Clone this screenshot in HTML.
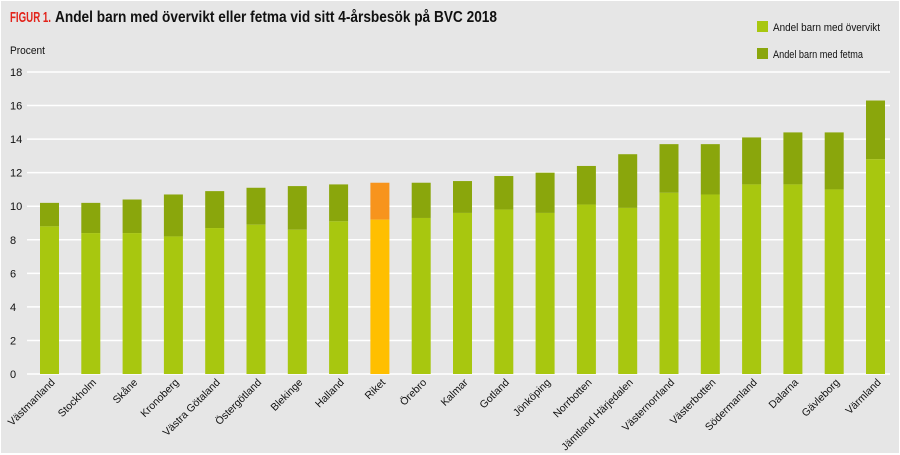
<!DOCTYPE html>
<html><head><meta charset="utf-8"><style>body{margin:0;background:#fff}svg{display:block}</style></head><body>
<svg width="900" height="455" xmlns="http://www.w3.org/2000/svg" font-family="Liberation Sans, sans-serif">
<rect x="0" y="0" width="900" height="455" fill="#fff"/>
<rect x="1" y="1" width="898" height="452" fill="#e6e6e6"/>
<text x="10" y="22" font-size="15" font-weight="bold" fill="#e2231a" textLength="41" lengthAdjust="spacingAndGlyphs">FIGUR 1.</text>
<text x="55" y="22" font-size="16" font-weight="bold" fill="#111" textLength="442" lengthAdjust="spacingAndGlyphs">Andel barn med övervikt eller fetma vid sitt 4-årsbesök på BVC 2018</text>
<text x="10" y="54" font-size="11" fill="#111" textLength="35" lengthAdjust="spacingAndGlyphs">Procent</text>
<rect x="757" y="21" width="11" height="11" fill="#a8c70f"/>
<text x="773" y="31" font-size="11" fill="#111" textLength="107" lengthAdjust="spacingAndGlyphs">Andel barn med övervikt</text>
<rect x="757" y="48" width="11" height="11" fill="#8aa60c"/>
<text x="773" y="58" font-size="11" fill="#111" textLength="90" lengthAdjust="spacingAndGlyphs">Andel barn med fetma</text>
<g id="grid"></g>
<g id="bars"></g>
<script>
var ns="http://www.w3.org/2000/svg",svg=document.querySelector('svg');
function el(t,a,txt,p){var e=document.createElementNS(ns,t);for(var k in a)e.setAttribute(k,a[k]);if(txt)e.textContent=txt;(p||svg).appendChild(e);return e;}
var y0=374,u=(374-72)/18;
for(var i=0;i<=18;i+=2){var y=y0-i*u;el('line',{x1:27,x2:890,y1:y,y2:y,stroke:'#fff','stroke-width':1.5});el('text',{x:10,y:y+4,'font-size':11,fill:'#111'},String(i));}
var n=["Västmanland","Stockholm","Skåne","Kronoberg","Västra Götaland","Östergötland","Blekinge","Halland","Riket","Örebro","Kalmar","Gotland","Jönköping","Norrbotten","Jämtland Härjedalen","Västernorrland","Västerbotten","Södermanland","Dalarna","Gävleborg","Värmland"];
var t=[10.2,10.2,10.4,10.7,10.9,11.1,11.2,11.3,11.4,11.4,11.5,11.8,12.0,12.4,13.1,13.7,13.7,14.1,14.4,14.4,16.3];
var o=[8.8,8.4,8.4,8.2,8.7,8.9,8.6,9.1,9.2,9.3,9.6,9.8,9.6,10.1,9.9,10.8,10.7,11.3,11.3,11.0,12.8];
for(var i=0;i<21;i++){var cx=49.5+i*41.3,r=i==8;
el('rect',{x:cx-9.5,y:y0-t[i]*u,width:19,height:(t[i]-o[i])*u,fill:r?'#f7941d':'#8aa60c'});
el('rect',{x:cx-9.5,y:y0-o[i]*u,width:19,height:o[i]*u,fill:r?'#ffbf00':'#a8c70f'});
el('text',{x:cx+6,y:y0+9,'font-size':10.5,fill:'#111','text-anchor':'end',transform:'rotate(-45 '+(cx+6)+' '+(y0+9)+')'},n[i]);}
</script>
</svg>
</body></html>
